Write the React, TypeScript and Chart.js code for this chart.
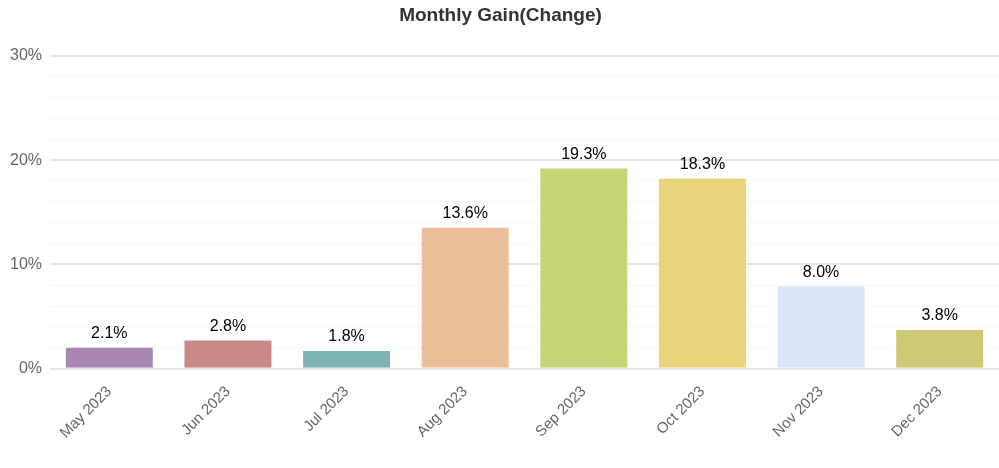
import React, { useEffect, useRef } from "react";
import { Chart, registerables } from "chart.js";

Chart.register(...registerables);

const categories = ["May 2023", "Jun 2023", "Jul 2023", "Aug 2023", "Sep 2023", "Oct 2023", "Nov 2023", "Dec 2023"];
const gains = [2.1, 2.8, 1.8, 13.6, 19.3, 18.3, 8.0, 3.8];
const barColors = ["#a888b3", "#c98a87", "#80b3b3", "#ebbf99", "#c5d677", "#e9d47c", "#dae6f7", "#cec977"];
const yMax = 30;
const yStep = 2;

const FONT = "'Liberation Sans', Arial, sans-serif";

const valueLabels = {
  id: "valueLabels",
  afterDatasetsDraw(chart: any) {
    const ctx = chart.ctx;
    const meta = chart.getDatasetMeta(0);
    ctx.save();
    ctx.font = "16px " + FONT;
    ctx.fillStyle = "#000";
    ctx.textAlign = "center";
    ctx.textBaseline = "bottom";
    meta.data.forEach((bar: any, i: number) => {
      ctx.fillText(gains[i].toFixed(1) + "%", bar.x, bar.y - 5);
    });
    ctx.restore();
  },
};

export default function App() {
  const ref = useRef<HTMLCanvasElement>(null);
  useEffect(() => {
    document.body.style.margin = "0";
    const chart = new Chart(ref.current!, {
      type: "bar",
      data: {
        labels: categories,
        datasets: [
          {
            data: gains,
            backgroundColor: barColors,
            borderColor: "rgba(255,255,255,0.5)",
            borderWidth: 1,
            categoryPercentage: 0.75,
            barPercentage: 1,
          },
        ],
      },
      options: {
        responsive: false,
        animation: false,
        layout: { padding: { left: 2, right: 0, top: 0, bottom: 12 } },
        plugins: {
          legend: { display: false },
          tooltip: { enabled: false },
          title: {
            display: true,
            text: "Monthly Gain(Change)",
            color: "#333",
            font: { family: FONT, size: 19, weight: "bold" },
            padding: { top: 4, bottom: 29 },
          },
        },
        scales: {
          x: {
            grid: { display: false, drawTicks: false },
            border: { display: false },
            ticks: {
              color: "#666",
              font: { family: FONT, size: 15 },
              maxRotation: 45,
              minRotation: 45,
              padding: 14,
            },
          },
          y: {
            min: 0,
            max: yMax,
            border: { display: false },
            grid: {
              drawTicks: false,
              color: (c: any) => (c.tick && c.tick.value % 10 === 0 ? "#e6e6e6" : "#f6f6f6"),
              lineWidth: (c: any) => (c.tick && c.tick.value % 10 === 0 ? 2 : 1),
            },
            ticks: {
              stepSize: yStep,
              autoSkip: false,
              color: "#666",
              padding: 8,
              font: { family: FONT, size: 16 },
              callback: (v: any) => (Number(v) % 10 === 0 ? v + "%" : ""),
            },
          },
        },
      },
      plugins: [valueLabels],
    });
    return () => chart.destroy();
  }, []);
  return (
    <div style={{ width: 999, height: 468 }}>
      <canvas ref={ref} width={999} height={468} />
    </div>
  );
}
